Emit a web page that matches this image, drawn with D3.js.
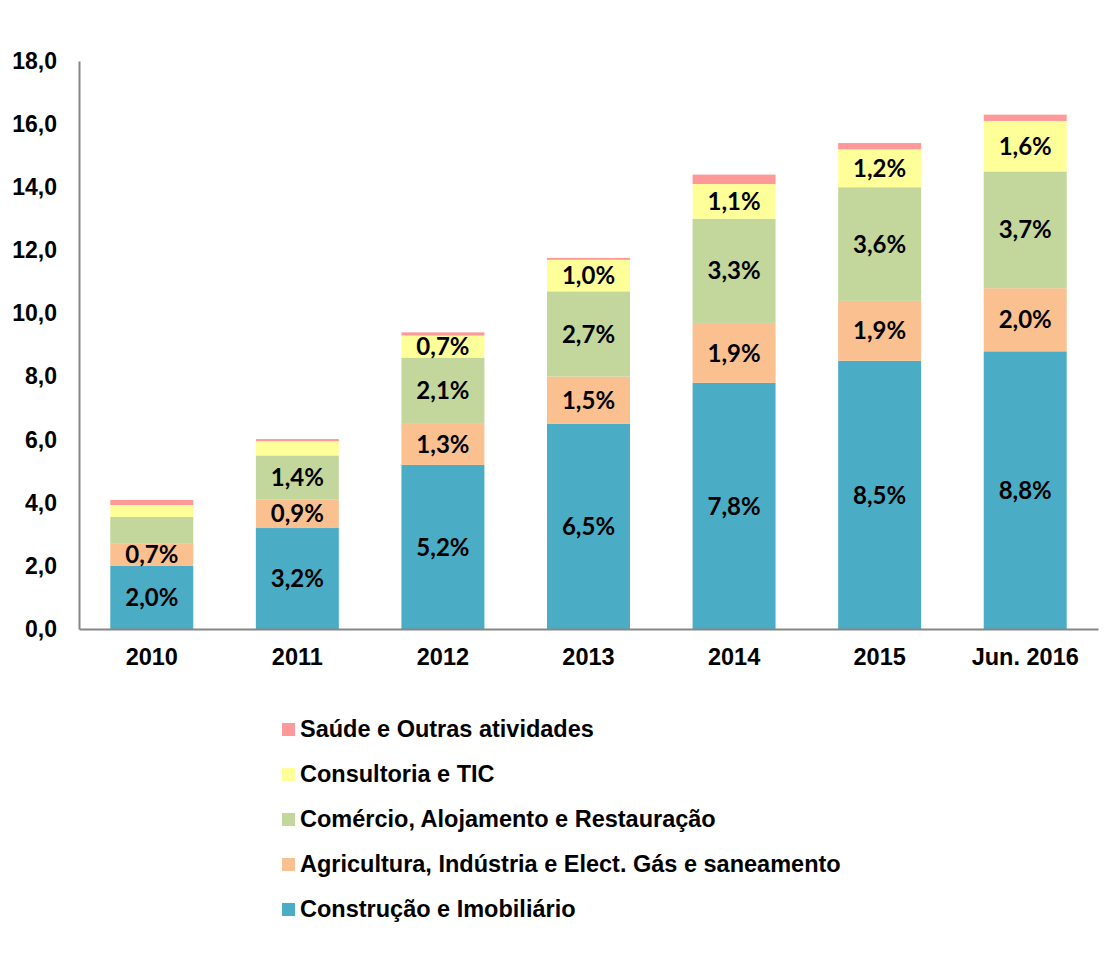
<!DOCTYPE html>
<html>
<head>
<meta charset="utf-8">
<script src="https://cdn.jsdelivr.net/npm/d3@7"></script>
<style>
body { margin:0; background:#fff; }
</style>
</head>
<body>
<div id="svgContainer"></div>
<script>
// data
var years = ["2010","2011","2012","2013","2014","2015","Jun. 2016"];
var construcao = [2.0, 3.2, 5.2, 6.5, 7.8, 8.5, 8.8];
var agricultura = [0.7, 0.9, 1.3, 1.5, 1.9, 1.9, 2.0];
var comercio = [0.85, 1.4, 2.1, 2.7, 3.3, 3.6, 3.7];
var consultoria = [0.38, 0.45, 0.7, 1.0, 1.1, 1.2, 1.6];
var saude = [0.16, 0.07, 0.1, 0.06, 0.3, 0.2, 0.2];
var showLabel = [[true,true,true,true,true,true,true],
                 [true,true,true,true,true,true,true],
                 [false,true,true,true,true,true,true],
                 [false,false,true,true,true,true,true],
                 [false,false,false,false,false,false,false]];
var seriesNames = ["Construção e Imobiliário","Agricultura, Indústria e Elect. Gás e saneamento",
                   "Comércio, Alojamento e Restauração","Consultoria e TIC","Saúde e Outras atividades"];
var seriesColors = ["#4BACC6","#FAC090","#C3D69B","#FFFF99","#FF9999"];
var yTicks = [0,2,4,6,8,10,12,14,16,18];

var svgWidth = 1111, svgHeight = 953;
var svg = d3.select("#svgContainer").append("svg")
    .attr("width",svgWidth).attr("height",svgHeight)
    .style("background-color","#fff");

var margin = {top:61, left:79, right:13, bottom:324};
var x = d3.scaleBand().domain(years).range([margin.left, svgWidth - margin.right]).paddingInner(0.43).paddingOuter(0.215);
var y = d3.scaleLinear().domain([0,18]).range([svgHeight - margin.bottom, margin.top]);

var seriesData = [construcao, agricultura, comercio, consultoria, saude];
var table = years.map(function(yr,i){
    var row = {year:yr};
    seriesData.forEach(function(s,k){ row["s"+k] = s[i]; });
    return row;
});
var stack = d3.stack().keys(seriesData.map(function(d,k){return "s"+k;}));
var stacked = stack(table);

// bars
var groups = svg.append("g").selectAll("g")
    .data(stacked).enter().append("g")
    .attr("fill",function(d,k){return seriesColors[k];});

groups.selectAll("rect")
    .data(function(d){return d;})
    .enter().append("rect")
    .attr("x",function(d){return x(d.data.year);})
    .attr("y",function(d){return y(d[1]);})
    .attr("width",x.bandwidth())
    .attr("height",function(d){return y(d[0]) - y(d[1]);});

// labels
stacked.forEach(function(layer,k){
    svg.append("g").selectAll("text")
        .data(layer.filter(function(d,i){return showLabel[k][i];}))
        .enter().append("text")
        .attr("x",function(d){return x(d.data.year) + x.bandwidth()/2;})
        .attr("y",function(d){return (y(d[0]) + y(d[1]))/2;})
        .attr("dy","0.36em")
        .attr("text-anchor","middle")
        .attr("font-family","Lato, 'Open Sans', sans-serif")
        .attr("font-weight","bold")
        .attr("font-size","24px")
        .attr("fill","#000")
        .text(function(d){return (d[1]-d[0]).toFixed(1).replace(".",",") + "%";});
});

// y axis
var yAxis = svg.append("g")
    .attr("transform","translate("+margin.left+",0)")
    .call(d3.axisLeft(y).tickValues(yTicks).tickSize(0).tickPadding(22)
        .tickFormat(function(d){return d.toFixed(1).replace(".",",");}));
yAxis.select(".domain").attr("stroke","#868686").attr("stroke-width",2);
yAxis.selectAll("text")
    .attr("font-family","Arial, 'Liberation Sans', sans-serif")
    .attr("font-weight","bold")
    .attr("font-size","23px")
    .attr("fill","#000");

// x axis
var xAxis = svg.append("g")
    .attr("transform","translate(0,"+(svgHeight - margin.bottom)+")")
    .call(d3.axisBottom(x).tickSize(0).tickPadding(19));
xAxis.select(".domain").attr("stroke","#868686").attr("stroke-width",2);
xAxis.selectAll("text")
    .attr("font-family","Arial, 'Liberation Sans', sans-serif")
    .attr("font-weight","bold")
    .attr("font-size","23.5px")
    .attr("fill","#000");

// legend (reverse order)
var legendOrder = [4,3,2,1,0];
var legend = svg.selectAll(".legend")
    .data(legendOrder).enter().append("g")
    .attr("class","legend")
    .attr("transform",function(d,i){return "translate(282,"+(729 + i*45)+")";});

legend.append("rect")
    .attr("x",0).attr("y",-6)
    .attr("width",13).attr("height",13)
    .attr("fill",function(k){return seriesColors[k];});

legend.append("text")
    .attr("x",18).attr("y",0)
    .attr("dy","0.36em")
    .attr("font-family","Arial, 'Liberation Sans', sans-serif")
    .attr("font-weight","bold")
    .attr("font-size","23.5px")
    .attr("fill","#000")
    .text(function(k){return seriesNames[k];});
</script>
</body>
</html>
